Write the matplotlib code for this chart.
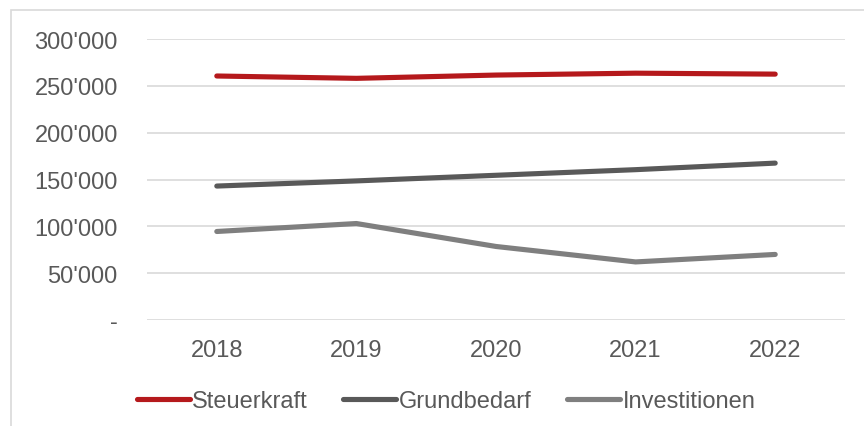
import matplotlib
matplotlib.use("Agg")
import matplotlib.pyplot as plt
from matplotlib.patches import Rectangle
from matplotlib.ticker import FuncFormatter

# ── Data ──────────────────────────────────────────────────────────────────────
years = ["2018", "2019", "2020", "2021", "2022"]
steuerkraft = [260500, 258000, 261500, 263500, 262500]
grundbedarf = [143000, 148500, 154500, 160500, 167500]
investitionen = [94500, 103000, 78500, 62000, 70000]

series_names = ["Steuerkraft", "Grundbedarf", "Investitionen"]
colors = ["#B5191C", "#595959", "#7F7F7F"]
y_ticks = [0, 50000, 100000, 150000, 200000, 250000, 300000]

TEXT = "#595959"
plt.rcParams["font.family"] = ["Liberation Sans", "DejaVu Sans"]

W, H = 864, 427
fig = plt.figure(figsize=(W / 100, H / 100), dpi=100)

# light frame round the chart (only left and top edges fall inside the picture)
fig.patches.append(Rectangle((11 / W, -0.1), 1.2, 1.1 - 11 / H, transform=fig.transFigure,
                             fill=False, edgecolor="#D9D9D9", lw=1.2))

ax = fig.add_axes([147 / W, (H - 321) / H, 698 / W, 281 / H])

x = range(len(years))
for vals, name, col in zip([steuerkraft, grundbedarf, investitionen], series_names, colors):
    ax.plot(x, vals, color=col, lw=3.7, solid_capstyle="round", label=name, zorder=3)

ax.set_xlim(-0.5, len(years) - 0.5)
ax.set_ylim(0, 300000)
ax.set_xticks(list(x))
ax.set_xticklabels(years)
ax.set_yticks(y_ticks)


def fmt(v, _):
    if v == 0:
        return "-"
    return f"{int(v):,}".replace(",", "'")


ax.yaxis.set_major_formatter(FuncFormatter(fmt))
ax.grid(axis="y", color="#D9D9D9", lw=1.2)
ax.set_axisbelow(True)
for s in ax.spines.values():
    s.set_visible(False)
ax.tick_params(axis="both", length=0, labelsize=17, labelcolor=TEXT)
ax.tick_params(axis="x", pad=14)
ax.tick_params(axis="y", pad=21)

fig.legend(loc="center", bbox_to_anchor=(446 / W, 1 - 402 / H), ncol=3, frameon=False,
           fontsize=17, labelcolor=TEXT, handlelength=2.25, handletextpad=0.1,
           columnspacing=1.5)

fig.savefig("out.png", dpi=100)
